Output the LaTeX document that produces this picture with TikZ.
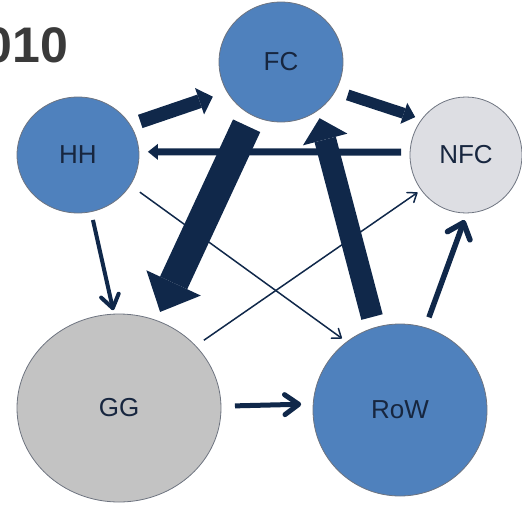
\documentclass[tikz,border=0pt]{standalone}
\usepackage{fontspec}
\setmainfont{Liberation Sans}
\usetikzlibrary{arrows.meta,shapes.geometric}

\definecolor{sectorblue}{HTML}{4F81BD}
\definecolor{sectorgray}{HTML}{C3C3C3}
\definecolor{sectorlight}{HTML}{DDDEE3}
\definecolor{rimgray}{HTML}{6E7480}
\definecolor{flownavy}{HTML}{10284A}
\definecolor{labelnavy}{HTML}{17263F}
\definecolor{yeargray}{HTML}{3A3A3A}

\begin{document}
\begin{tikzpicture}[x=1pt,y=-1pt,
  sector/.style={ellipse, draw=rimgray, line width=0.8pt, inner sep=0pt, outer sep=0pt,
    text=labelnavy, font=\fontsize{26}{30}\selectfont},
  flow/.style={draw=flownavy, line cap=butt},
  blockflow/.style n args={3}{flow, line width=#1,
    -{Triangle[width=#2, length=#3, line width=0pt]}},
  barbflow/.style n args={3}{flow, line width=#1,
    -{Straight Barb[round, width=#2, length=#3]}}
 ]

 \useasboundingbox (0,0) rectangle (522,506);

 \node[anchor=base west, inner sep=0pt, text=yeargray,
   font=\bfseries\fontsize{50}{60}\selectfont] (year) at (-15.6,62) {010};

 % the five sectors
 \node[sector, fill=sectorblue, minimum width=122pt, minimum height=116pt] (hh) at (78,155) {HH};
 \node[sector, fill=sectorblue, minimum width=124pt, minimum height=120pt] (fc) at (281,62) {FC};
 \node[sector, fill=sectorlight, minimum width=112pt, minimum height=116pt] (nfc) at (466,155) {NFC};
 \node[sector, fill=sectorgray, minimum width=204pt, minimum height=188pt] (gg) at (119,408) {GG};
 \node[sector, fill=sectorblue, minimum width=174pt, minimum height=172pt] (row) at (400,410) {RoW};

 % thick flows
 \draw[blockflow={14pt}{28pt}{14pt}, shorten <=10.7pt, shorten >=15.2pt] (hh.30.6) -- (fc.209.5);
 \draw[blockflow={11pt}{22pt}{12pt}, shorten <=13pt, shorten >=7pt] (fc.332) -- (nfc.141);
 \draw[blockflow={7pt}{16pt}{10pt}, shorten <=9pt, shorten >=9pt] (nfc.177) -- (hh.3);
 \draw[blockflow={30pt}{60pt}{32pt}, shorten <=12pt, shorten >=9.4pt] (fc.241.4) -- (gg.67.1);
 \draw[blockflow={22pt}{46pt}{22pt}, shorten <=11pt, shorten >=8pt] (row.107) -- (fc.307.5);

 % thin flows
 \draw[barbflow={5.5pt}{24pt}{14pt}, shorten <=11pt, shorten >=7.5pt] (row.73.8) -- (nfc.271.7);
 \draw[barbflow={4pt}{18pt}{13pt}, shorten <=8.5pt, shorten >=4pt] (hh.283.2) -- (gg.93.7);
 \draw[barbflow={5pt}{20pt}{14pt}, shorten <=14pt, shorten >=12pt] (gg.1.7) -- (row.176.7);
 \draw[barbflow={1.5pt}{12pt}{8pt}, shorten <=12pt, shorten >=6pt] (hh.330.2) -- (row.128.8);
 \draw[barbflow={1.5pt}{12pt}{8pt}, shorten <=10pt, shorten >=4.5pt] (gg.39.1) -- (nfc.218.7);
\end{tikzpicture}
\end{document}
